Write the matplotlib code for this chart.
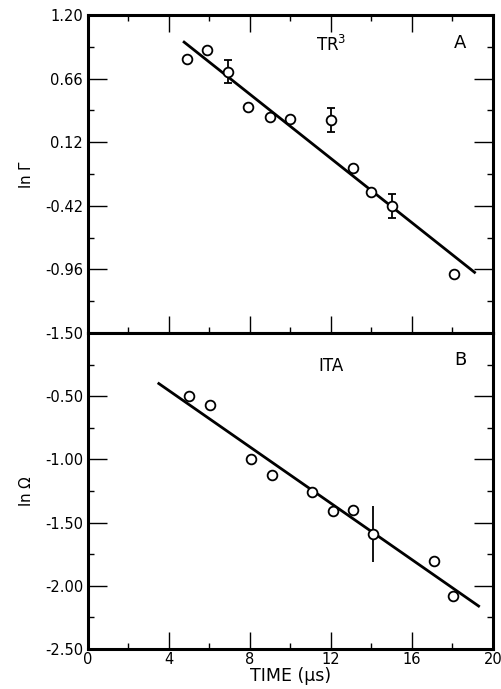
import matplotlib
matplotlib.use("Agg")
import matplotlib.pyplot as plt
import numpy as np
from matplotlib.ticker import MultipleLocator, FixedLocator

# Panel A data (TR^3)
a_time = [4.9, 5.9, 6.9, 7.9, 9.0, 10.0, 12.0, 13.1, 14.0, 15.0, 18.1]
a_lnG = [0.83, 0.90, 0.72, 0.42, 0.33, 0.32, 0.31, -0.10, -0.30, -0.42, -1.00]
a_err = [0, 0, 0.10, 0, 0, 0, 0.10, 0, 0, 0.10, 0]
a_fit_t = [4.75, 19.1]
a_fit_y = [0.97, -0.985]

# Panel B data (ITA)
b_time = [5.0, 6.05, 8.05, 9.1, 11.05, 12.1, 13.1, 14.1, 17.1, 18.05]
b_lnO = [-0.50, -0.57, -1.00, -1.12, -1.26, -1.41, -1.40, -1.59, -1.80, -2.08]
b_err = [0, 0, 0, 0, 0, 0, 0, 0.22, 0, 0]
b_fit_t = [3.5, 19.3]
b_fit_y = [-0.40, -2.16]

a_yticks = [1.20, 0.66, 0.12, -0.42, -0.96, -1.50]
a_ylabels = ["1.20", "0.66", "0.12", "-0.42", "-0.96", "-1.50"]
b_yticks = [-0.50, -1.00, -1.50, -2.00, -2.50]
b_ylabels = ["-0.50", "-1.00", "-1.50", "-2.00", "-2.50"]
xticks = [0, 4, 8, 12, 16, 20]

fig = plt.figure(figsize=(5.01, 6.89), dpi=100)
axA = fig.add_axes([0.1756, 0.5167, 0.808, 0.4615])
axB = fig.add_axes([0.1756, 0.0580, 0.808, 0.4587])

for ax in (axA, axB):
    ax.set_xlim(0, 20)
    for s in ax.spines.values():
        s.set_linewidth(2.2)
    ax.xaxis.set_major_locator(FixedLocator(xticks))
    ax.xaxis.set_minor_locator(MultipleLocator(2))
    ax.tick_params(which='both', direction='in', top=True, right=True, width=1.0)
    ax.tick_params(axis='x', which='major', length=12.5, labelsize=10.5, pad=2)
    ax.tick_params(axis='y', which='major', length=14, labelsize=10.5)
    ax.tick_params(which='minor', length=4)

# Panel A
axA.set_ylim(-1.50, 1.20)
axA.yaxis.set_major_locator(FixedLocator(a_yticks))
axA.set_yticklabels(a_ylabels)
axA.yaxis.set_minor_locator(FixedLocator([0.93, 0.39, -0.15, -0.69, -1.23]))
axA.tick_params(axis='x', labelbottom=False)
axA.plot(a_fit_t, a_fit_y, color='black', lw=2.0)
aerr = np.array(a_err)
axA.errorbar(a_time, a_lnG, yerr=np.where(aerr > 0, aerr, np.nan), fmt='o',
             mfc='white', mec='black', ecolor='black', ms=7, mew=1.3,
             capsize=3, elinewidth=1.3, capthick=1.3, zorder=3)
axA.text(12.0, 0.95, r"TR$^3$", fontsize=12, ha='center', va='center')
axA.text(18.4, 0.96, "A", fontsize=13, ha='center', va='center')
axA.set_ylabel(r"ln $\Gamma$", fontsize=11, labelpad=8)

# Panel B
axB.set_ylim(-2.50, 0.0)
axB.yaxis.set_major_locator(FixedLocator(b_yticks))
axB.set_yticklabels(b_ylabels)
axB.yaxis.set_minor_locator(FixedLocator([-0.25, -0.75, -1.25, -1.75, -2.25]))
axB.tick_params(axis='x', top=False, which='both')
axB.set_xticklabels([str(t) for t in xticks])
axB.plot(b_fit_t, b_fit_y, color='black', lw=2.0)
berr = np.array(b_err)
axB.errorbar(b_time, b_lnO, yerr=np.where(berr > 0, berr, np.nan), fmt='o',
             mfc='white', mec='black', ecolor='black', ms=7, mew=1.3,
             capsize=0, elinewidth=1.3, zorder=3)
axB.text(12.0, -0.26, "ITA", fontsize=12, ha='center', va='center')
axB.text(18.4, -0.21, "B", fontsize=13, ha='center', va='center')
axB.set_ylabel(r"ln $\Omega$", fontsize=11, labelpad=8)
axB.set_xlabel("TIME (\u00b5s)", fontsize=12.5, labelpad=0)

fig.savefig("out.png", dpi=100)
